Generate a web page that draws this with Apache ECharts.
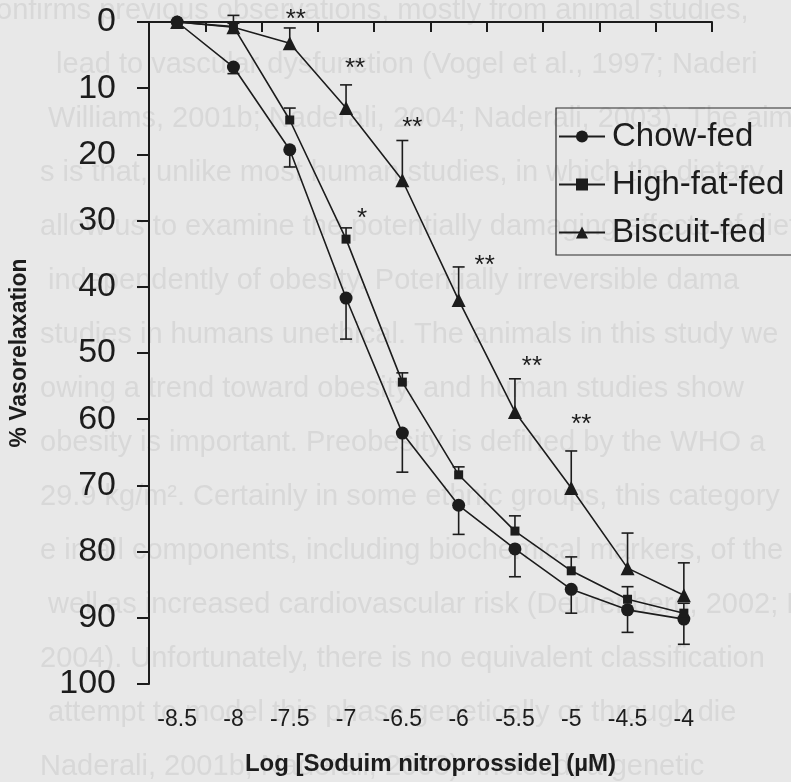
<!DOCTYPE html>
<html><head><meta charset="utf-8">
<script src="https://cdn.jsdelivr.net/npm/echarts@6/dist/echarts.min.js"></script>
<style>html,body{margin:0;padding:0;background:#e8e8e8}#c{width:791px;height:782px}</style>
</head><body><div id="c"></div>
<script>
// ---- data ----
const categories = ['-8.5','-8','-7.5','-7','-6.5','-6','-5.5','-5','-4.5','-4'];
const chowMean    = [0, 6.8, 19.3, 41.7, 62.1, 73.0, 79.6, 85.7, 88.8, 90.2];
const chowSem     = [0, 1.0, 2.6, 6.2, 5.9, 4.4, 4.2, 3.6, 3.4, 3.8];
const highFatMean = [0, 0.7, 14.8, 32.8, 54.4, 68.4, 76.9, 82.9, 87.2, 89.3];
const highFatSem  = [0, 0.5, 1.8, 1.7, 1.4, 1.2, 2.3, 2.1, 1.9, 1.5];
const biscuitMean = [0, 0.8, 3.2, 13.0, 23.9, 42.0, 58.9, 70.4, 82.5, 86.6];
const biscuitSem  = [0, 1.8, 2.3, 3.5, 6.0, 5.0, 5.0, 5.6, 5.3, 4.9];
const biscuitStars = ['', '', '**', '**', '**', '**', '**', '**', '', ''];
const highFatStars = ['', '', '', '*', '', '', '', '', '', ''];
const seriesNames = ['Chow-fed', 'High-fat-fed', 'Biscuit-fed'];
const xTitle = 'Log [Soduim nitroprosside] (µM)';
const yTitle = '% Vasorelaxation';
// faint show-through text of the scanned page behind the figure
const ghostLines = [
  'onfirms previous observations, mostly from animal studies,',
  '  lead to vascular dysfunction (Vogel et al., 1997; Naderi',
  ' Williams, 2001b; Naderali, 2004; Naderali, 2003). The aim',
  's is that, unlike most human studies, in which the dietary',
  'allow us to examine the potentially damaging effects of diet',
  ' independently of obesity. Potentially irreversible dama',
  'studies in humans unethical. The animals in this study we',
  'owing a trend toward obesity, and human studies show',
  'obesity is important. Preobesity is defined by the WHO a',
  '29.9 kg/m². Certainly in some ethnic groups, this category',
  'e in all components, including biochemical markers, of the',
  ' well as increased cardiovascular risk (Deurenberg, 2002; F',
  '2004). Unfortunately, there is no equivalent classification',
  ' attempt to model this phase genetically or through die',
  'Naderali, 2001b; Naderali, 2003). Instead, a genetic'
];

// ---- layout / style (not data) ----
const INK = '#1c1c1c';
const FONT = '"Liberation Sans", Arial, sans-serif';
const biscuitStarOffsets = [null, null, [6,-14], [9,-22], [10,-19], [26,-7], [17,-18], [10,-32], null, null];
const highFatStarOffsets = [null, null, null, [16,-15], null, null, null, null, null, null];

function errSeries(id, means, sems, dir) {
  return {
    type: 'custom', id: id, z: 3, silent: true,
    data: means.map((m, i) => [i, m, m + dir * sems[i]]),
    encode: { x: 0, y: [1, 2] },
    renderItem: (params, api) => {
      const x = api.value(0);
      const p1 = api.coord([x, api.value(1)]);
      const p2 = api.coord([x, api.value(2)]);
      const hw = 6;
      return { type: 'group', children: [
        { type: 'line', shape: { x1: p1[0], y1: p1[1], x2: p2[0], y2: p2[1] }, style: { stroke: INK, lineWidth: 1.6 } },
        { type: 'line', shape: { x1: p2[0] - hw, y1: p2[1], x2: p2[0] + hw, y2: p2[1] }, style: { stroke: INK, lineWidth: 1.6 } }
      ]};
    }
  };
}

function starSeries(id, means, sems, stars, offsets) {
  return {
    type: 'custom', id: id, z: 4, silent: true,
    data: means.map((m, i) => [i, m - sems[i]]),
    encode: { x: 0, y: 1 },
    renderItem: (params, api) => {
      const i = params.dataIndex;
      if (!stars[i]) return null;
      const p = api.coord([api.value(0), api.value(1)]);
      const o = offsets[i] || [8, -16];
      return { type: 'text', x: p[0] + o[0], y: p[1] + o[1] + 6,
        style: { text: stars[i], fontSize: 26, fontFamily: FONT, fill: INK, align: 'center', verticalAlign: 'middle' } };
    }
  };
}

function lineSeries(name, data, symbol, size) {
  return {
    type: 'line', name: name, data: data, symbol: symbol, symbolSize: size, z: 5,
    lineStyle: { color: INK, width: 1.6 }, itemStyle: { color: INK, borderWidth: 0 },
    animation: false
  };
}

const chart = echarts.init(document.getElementById('c'), null, { renderer: 'canvas' });
chart.setOption({
  animation: false,
  backgroundColor: '#e8e8e8',
  textStyle: { fontFamily: FONT },
  graphic: ghostLines.map((t, i) => ({
    type: 'text', left: (i === 0 ? -4 : 40), top: 12 + i * 54 - 16, z: -10, silent: true,
    style: { text: t, fontSize: 29, fontFamily: FONT, fill: '#d8d8d8' }
  })),
  grid: { left: 149, right: 79, top: 22, bottom: 98 },
  legend: {
    orient: 'vertical', left: 556, top: 108,
    data: seriesNames,
    itemWidth: 46, itemHeight: 15, itemGap: 15,
    padding: [12, 40, 6, 2],
    borderColor: '#2a2a2a', borderWidth: 1.2,
    textStyle: { fontSize: 33, color: INK, fontFamily: FONT, padding: [0, 0, 0, 2] }
  },
  xAxis: {
    type: 'category', data: categories, boundaryGap: true,
    name: xTitle, nameLocation: 'middle', nameGap: 68,
    nameTextStyle: { fontSize: 24, fontWeight: 'bold', color: INK, fontFamily: FONT },
    axisLine: { show: true, lineStyle: { color: INK, width: 2 } },
    axisTick: { show: true, length: 10, lineStyle: { color: INK, width: 2 } },
    axisLabel: { fontSize: 23, color: INK, margin: 24, interval: 0, fontFamily: FONT },
    splitLine: { show: false }
  },
  yAxis: {
    type: 'value', inverse: true, min: 0, max: 100, interval: 10,
    name: yTitle, nameLocation: 'middle', nameGap: 118, nameRotate: 90,
    nameTextStyle: { fontSize: 23, fontWeight: 'bold', color: INK, fontFamily: FONT },
    axisLine: { show: true, lineStyle: { color: INK, width: 2 } },
    axisTick: { show: true, length: 12, lineStyle: { color: INK, width: 2 } },
    axisLabel: { fontSize: 34, color: INK, margin: 33, fontFamily: FONT },
    splitLine: { show: false }
  },
  series: [
    errSeries('chowErr', chowMean, chowSem, 1),
    errSeries('highErr', highFatMean, highFatSem, -1),
    errSeries('biscErr', biscuitMean, biscuitSem, -1),
    lineSeries(seriesNames[0], chowMean, 'circle', 13),
    lineSeries(seriesNames[1], highFatMean, 'rect', 9),
    lineSeries(seriesNames[2], biscuitMean, 'triangle', 14),
    starSeries('biscStars', biscuitMean, biscuitSem, biscuitStars, biscuitStarOffsets),
    starSeries('highStars', highFatMean, highFatSem, highFatStars, highFatStarOffsets)
  ]
});
</script>
</body></html>
